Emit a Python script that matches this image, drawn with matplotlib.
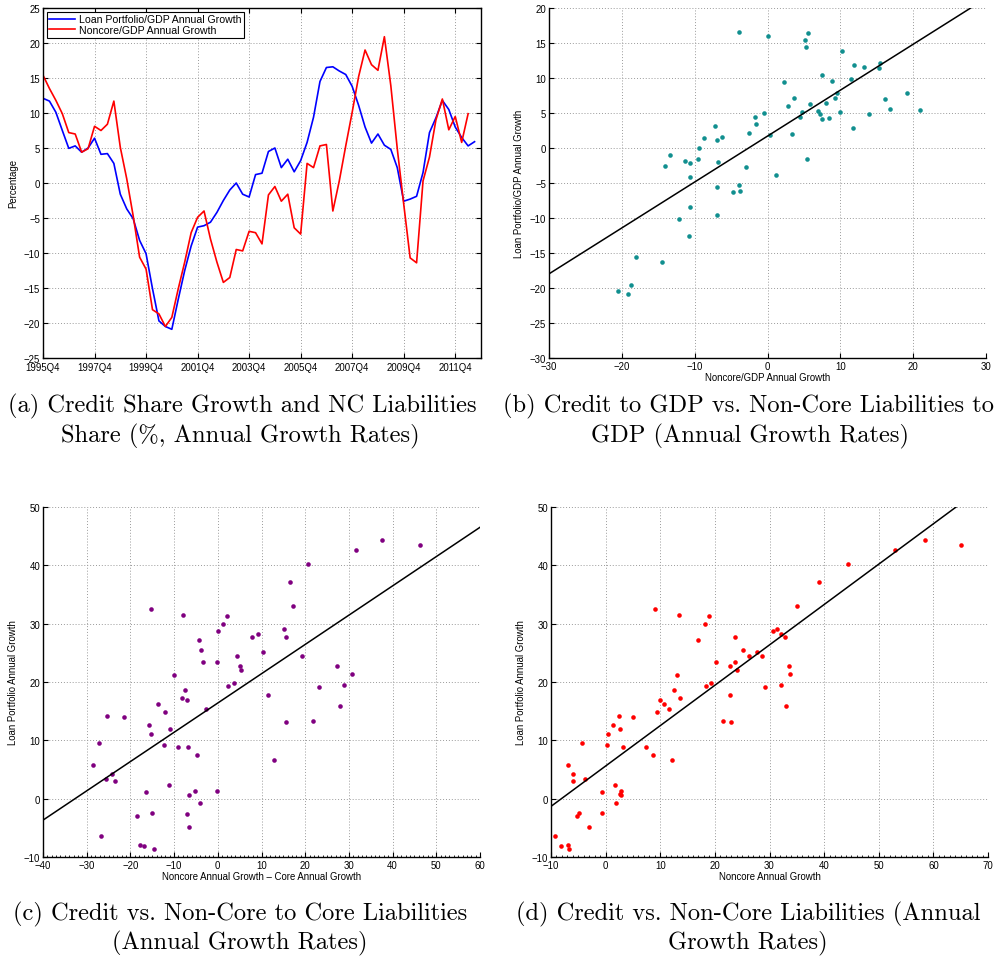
import numpy as np
import matplotlib
matplotlib.use("Agg")
import matplotlib.pyplot as plt
from matplotlib.ticker import MultipleLocator

plt.rcParams['font.family'] = ['Liberation Sans', 'DejaVu Sans']
plt.rcParams['axes.unicode_minus'] = True

# (a) quarterly annual growth rates, 1995Q4 onwards
loan_gdp_growth = [12.1, 11.7, 10.1, 7.5, 4.95, 5.3, 4.4, 5.0, 6.4, 4.1,
                   4.2, 2.8, -1.6, -3.7, -5.1, -8.2, -10.1, -15.1, -19.7, -20.5,
                   -20.9, -16.6, -12.5, -9.0, -6.3, -6.1, -5.6, -4.2, -2.5, -1.0,
                   0.0, -1.6, -2.0, 1.2, 1.4, 4.5, 5.0, 2.2, 3.4, 1.6,
                   3.2, 5.8, 9.4, 14.5, 16.5, 16.6, 16.0, 15.5, 13.8, 11.1,
                   8.0, 5.7, 7.0, 5.4, 4.8, 2.2, -2.6, -2.3, -1.9, 1.5,
                   7.2, 9.3, 11.8, 10.5, 8.0, 6.5, 5.3, 5.9]
noncore_gdp_growth = [15.4, 13.5, 11.8, 9.9, 7.2, 7.0, 4.4, 4.9, 8.1, 7.5,
                      8.4, 11.7, 5.1, 0.6, -4.7, -10.6, -12.3, -18.1, -18.7, -20.5,
                      -19.2, -15.1, -11.3, -7.1, -4.9, -4.0, -8.0, -11.3, -14.2, -13.5,
                      -9.5, -9.7, -6.9, -7.1, -8.7, -1.7, -0.5, -2.6, -1.6, -6.4,
                      -7.3, 2.8, 2.2, 5.3, 5.5, -4.0, 0.3, 5.3, 10.1, 15.2,
                      19.0, 16.9, 16.1, 20.9, 13.9, 4.9, -3.0, -10.7, -11.4, 0.3,
                      3.7, 9.0, 12.0, 7.6, 9.5, 5.8, 9.9]
quarter_labels = ["1995Q4", "1997Q4", "1999Q4", "2001Q4", "2003Q4",
                  "2005Q4", "2007Q4", "2009Q4", "2011Q4"]

# (b) credit/GDP vs noncore/GDP
b_noncore = [-3.9, -7.2, -8.7, -7.0, -6.2, -2.5, -9.4, -13.4, -14.1, -11.3,
             -10.6, -9.6, -6.8, -2.9, -10.7, -7.0, -3.9, -3.8, -4.7, -10.6,
             -12.2, -7.0, -10.8, -14.5, -18.1, -18.7, -20.5, -19.1,
             -1.7, -1.6, -0.5, 0.05, 0.3, 1.1, 2.2, 2.8, 3.3, 3.7,
             4.5, 4.8, 5.4, 5.1, 5.3, 5.5, 5.8, 7.0, 7.2, 7.5,
             7.5, 8.1, 8.5, 8.9, 9.2, 9.5, 9.9, 10.2, 11.4, 11.7,
             11.9, 13.3, 13.9, 15.3, 15.5, 16.1, 16.8, 19.1, 20.9]
b_loan = [16.6, 3.2, 1.4, 1.2, 1.6, 2.1, 0.0, -1.0, -2.5, -1.9,
          -2.2, -1.6, -2.0, -2.7, -4.1, -5.5, -5.3, -6.1, -6.3, -8.4,
          -10.1, -9.6, -12.6, -16.3, -15.5, -19.6, -20.4, -20.9,
          4.4, 3.4, 5.0, 16.0, 1.8, -3.9, 9.5, 6.0, 2.0, 7.1,
          4.4, 5.1, -1.6, 15.5, 14.5, 16.5, 6.3, 5.3, 4.9, 4.1,
          10.5, 6.4, 4.3, 9.6, 7.2, 7.8, 5.2, 13.9, 9.8, 2.8,
          11.9, 11.6, 4.8, 11.4, 12.1, 7.0, 5.6, 7.9, 5.4]
b_fit = (0.656, 1.7)  # slope, intercept

# (c) credit vs noncore minus core growth
c_spread = [-15.2, -8.0, 2.1, 1.1, 0.1, -4.3, -3.9, -3.4, -0.2, 4.3,
            5.0, 5.2, -10.0, 3.7, 2.3, -7.4, -8.3, -7.0, -13.7, -2.7,
            -12.1, -25.4, -21.5, -15.8, -11.0, -15.2, -27.2, -12.3, -9.1, -6.9,
            -4.8, -28.5, -24.3, -25.6, -23.6, -11.2, -16.4, -5.3, -6.5, -0.1,
            -4.1, -15.1, -7.0, -18.4, -6.7, -26.8, -17.8, -16.9, -14.7,
            7.9, 9.2, 10.3, 11.5, 12.8, 15.2, 15.5, 15.6, 16.6, 17.2,
            19.3, 20.7, 21.8, 23.2, 27.3, 28.0, 28.8, 30.7, 31.6, 37.6, 46.2]
c_loan = [32.6, 31.5, 31.4, 29.9, 28.7, 27.2, 25.5, 23.5, 23.5, 24.4,
          22.7, 22.1, 21.2, 19.8, 19.3, 18.7, 17.3, 16.9, 16.3, 15.4,
          14.9, 14.1, 14.0, 12.7, 12.0, 11.1, 9.6, 9.2, 8.8, 8.9,
          7.5, 5.8, 4.2, 3.3, 3.0, 2.3, 1.1, 1.4, 0.6, 1.3,
          -0.7, -2.4, -2.6, -3.0, -4.9, -6.4, -7.9, -8.1, -8.7,
          27.8, 28.2, 25.1, 17.7, 6.6, 29.1, 27.7, 13.1, 37.2, 33.1,
          24.4, 40.2, 13.4, 19.1, 22.8, 15.9, 19.5, 21.3, 42.7, 44.3, 43.5]
c_fit = (0.502, 16.4)

# (d) credit vs noncore growth
d_noncore = [9.1, 13.5, 19.0, 18.2, 17.0, 23.7, 25.1, 20.2, 23.7, 22.7,
             24.0, 26.2, 13.0, 19.2, 18.4, 12.5, 22.8, 13.7, 10.0, 10.7,
             11.6, 9.4, 2.4, 5.1, 1.4, 2.7, 0.5, 21.4, 22.9, -4.3,
             0.2, 3.2, 7.3, 8.7, 12.1, -6.9, -5.9, -3.8, -5.9, 1.8,
             -0.6, 2.9, 2.6, 2.9, 1.9, -0.7, -4.8, -5.3, -3.0, -9.3,
             -8.2, -6.9, -6.7,
             27.8, 28.6, 29.2, 30.7, 31.4, 32.1, 32.1, 32.9, 33.0, 33.5,
             33.7, 35.0, 39.1, 44.3, 53.0, 58.4, 65.0]
d_loan = [32.6, 31.5, 31.4, 29.9, 27.2, 27.8, 25.5, 23.5, 23.5, 22.7,
          22.1, 24.4, 21.2, 19.8, 19.3, 18.7, 17.7, 17.3, 16.9, 16.3,
          15.4, 14.9, 14.1, 14.0, 12.7, 12.0, 11.1, 13.4, 13.1, 9.6,
          9.2, 8.8, 8.9, 7.5, 6.6, 5.8, 4.2, 3.3, 3.0, 2.3,
          1.1, 1.4, 0.8, 0.6, -0.7, -2.5, -2.4, -3.0, -4.9, -6.4,
          -8.1, -7.9, -8.7,
          25.1, 24.4, 19.1, 28.7, 29.1, 28.2, 19.5, 27.7, 15.9, 22.8,
          21.3, 33.1, 37.2, 40.2, 42.7, 44.3, 43.5]
d_fit = (0.692, 5.6)

W, H = 997, 962
TICK_FS = 6.9
CAP_FS = 17.6


def px_axes(fig, left, top, right, bottom):
    return fig.add_axes([left / W, 1 - bottom / H, (right - left) / W, (bottom - top) / H])


def style(ax, box):
    ax.grid(True, linestyle=(0, (1, 2)), color='#9a9a9a', linewidth=0.7)
    ax.set_axisbelow(True)
    ax.tick_params(direction='in', length=3.5, width=0.8, labelsize=TICK_FS,
                   top=box, right=box, pad=2)
    for side in ['left', 'bottom']:
        ax.spines[side].set_linewidth(1.0)
    for side in ['top', 'right']:
        ax.spines[side].set_visible(box)
        ax.spines[side].set_linewidth(1.0)


def scatter_panel(ax, x, y, fit, color, xlim, ylim, xlabel, ylabel):
    ax.plot(x, y, 'o', color=color, markersize=3.3, markeredgewidth=0)
    xs = np.array(xlim, dtype=float)
    ax.plot(xs, fit[0] * xs + fit[1], color='black', linewidth=1.1)
    ax.set_xlim(*xlim)
    ax.set_ylim(*ylim)
    ax.set_xlabel(xlabel, fontsize=TICK_FS, labelpad=1)
    ax.set_ylabel(ylabel, fontsize=TICK_FS, labelpad=4)
    style(ax, False)


fig = plt.figure(figsize=(W / 100, H / 100), dpi=100)

# panel a: time series
ax_a = px_axes(fig, 43, 9, 481, 359)
t_blue = np.arange(len(loan_gdp_growth))
t_red = np.arange(len(noncore_gdp_growth))
ax_a.plot(t_blue, loan_gdp_growth, color='blue', linewidth=1.2,
          label='Loan Portfolio/GDP Annual Growth')
ax_a.plot(t_red, noncore_gdp_growth, color='red', linewidth=1.2,
          label='Noncore/GDP Annual Growth')
ax_a.set_xlim(0, 68)
ax_a.set_ylim(-25, 25)
ax_a.set_xticks(np.arange(len(quarter_labels)) * 8)
ax_a.set_xticklabels(quarter_labels)
ax_a.yaxis.set_major_locator(MultipleLocator(5))
ax_a.set_ylabel('Percentage', fontsize=TICK_FS, labelpad=4)
style(ax_a, True)
ax_a.tick_params(axis='x', pad=3)
leg = ax_a.legend(loc='upper left', fontsize=7.6, fancybox=False,
                  edgecolor='black', framealpha=1, borderpad=0.25,
                  handlelength=2.4, handletextpad=0.4, labelspacing=0.05,
                  borderaxespad=0.35)
leg.get_frame().set_linewidth(0.8)

# panel b
ax_b = px_axes(fig, 549, 9, 986, 359)
scatter_panel(ax_b, b_noncore, b_loan, b_fit, '#118f8f', (-30, 30), (-30, 20),
              'Noncore/GDP Annual Growth', 'Loan Portfolio/GDP Annual Growth')
ax_b.xaxis.set_major_locator(MultipleLocator(10))
ax_b.yaxis.set_major_locator(MultipleLocator(5))

# panel c
ax_c = px_axes(fig, 43, 508, 480, 858)
scatter_panel(ax_c, c_spread, c_loan, c_fit, '#800080', (-40, 60), (-10, 50),
              'Noncore Annual Growth \u2013 Core Annual Growth',
              'Loan Portfolio Annual Growth')
ax_c.xaxis.set_major_locator(MultipleLocator(10))
ax_c.xaxis.set_minor_locator(MultipleLocator(1))
ax_c.tick_params(axis='x', which='minor', direction='in', length=1.8, width=0.6)

# panel d
ax_d = px_axes(fig, 551, 508, 988, 858)
scatter_panel(ax_d, d_noncore, d_loan, d_fit, 'red', (-10, 70), (-10, 50),
              'Noncore Annual Growth', 'Loan Portfolio Annual Growth')
ax_d.xaxis.set_major_locator(MultipleLocator(10))
ax_d.xaxis.set_minor_locator(MultipleLocator(1))
ax_d.tick_params(axis='x', which='minor', direction='in', length=1.8, width=0.6)

# sub-figure captions
captions = [
    (242, 406, "(a) Credit Share Growth and NC Liabilities"),
    (240, 436, "Share (%, Annual Growth Rates)"),
    (748, 406, "(b) Credit to GDP vs. Non-Core Liabilities to"),
    (750, 436, "GDP (Annual Growth Rates)"),
    (240, 914, "(c) Credit vs. Non-Core to Core Liabilities"),
    (240, 943, "(Annual Growth Rates)"),
    (748, 914, "(d) Credit vs. Non-Core Liabilities (Annual"),
    (748, 943, "Growth Rates)"),
]
for cx, cy, txt in captions:
    fig.text(cx / W, 1 - cy / H, txt, ha='center', va='center',
             fontsize=CAP_FS, family=['cmr10', 'DejaVu Serif'])

fig.savefig('out.png', dpi=100)
